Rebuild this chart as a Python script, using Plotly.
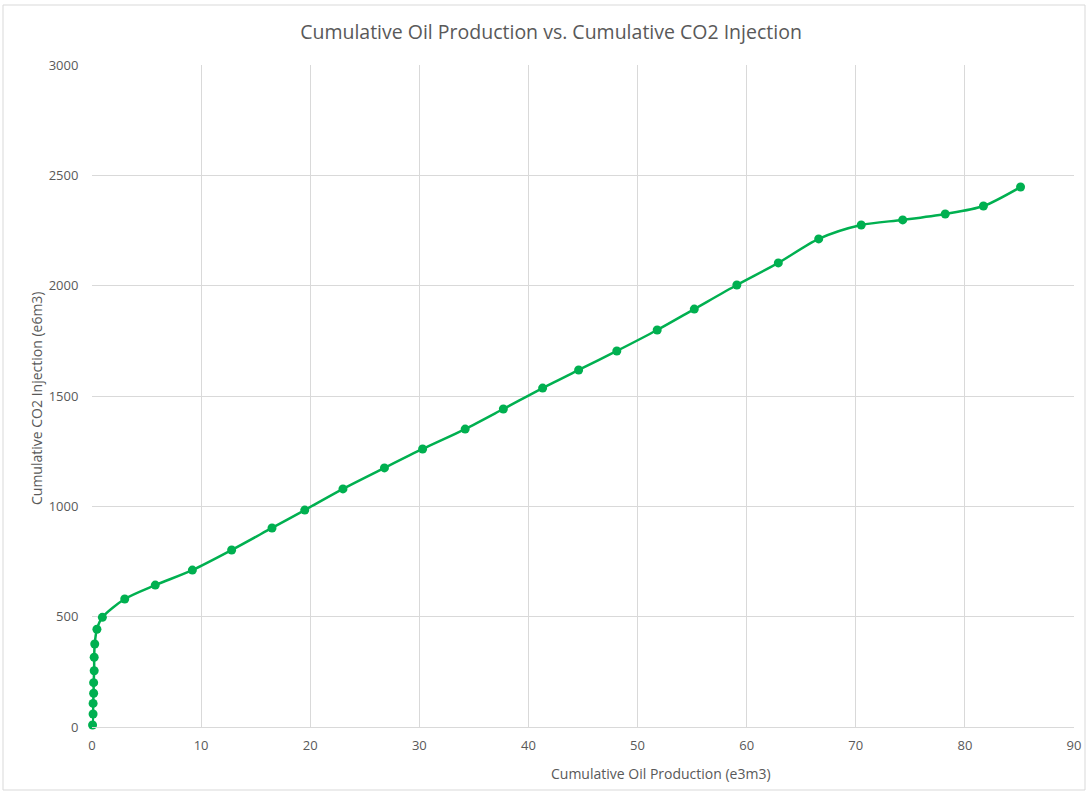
import plotly.graph_objects as go

oil_production = [0.05, 0.1, 0.1, 0.15, 0.15, 0.2, 0.2, 0.25, 0.45, 0.95,
                  3.0, 5.8, 9.2, 12.8, 16.5, 19.5, 23.0, 26.8, 30.3, 34.2,
                  37.7, 41.3, 44.6, 48.1, 51.8, 55.2, 59.1, 62.9, 66.6, 70.5,
                  74.3, 78.2, 81.7, 85.1]
co2_injection = [9, 59, 107, 153, 201, 255, 316, 376, 443, 497,
                 580, 643, 711, 802, 902, 983, 1079, 1174, 1260, 1350,
                 1441, 1536, 1618, 1704, 1799, 1894, 2003, 2103, 2212, 2275,
                 2298, 2325, 2361, 2447]

x_ticks = [0, 10, 20, 30, 40, 50, 60, 70, 80, 90]
y_ticks = [0, 500, 1000, 1500, 2000, 2500, 3000]

title_text = "Cumulative Oil Production vs. Cumulative CO2 Injection"
x_title = "Cumulative Oil Production (e3m3)"
y_title = "Cumulative CO2 Injection (e6m3)"

GREEN = "#00B050"
GRID = "#D9D9D9"
TEXT = "#595959"
FONT = "Open Sans"

W, H = 1088, 795
L, R, T, B = 92, 14, 65, 68
PW, PH = W - L - R, H - T - B


def px_x(p):
    return (p - L) / PW


def px_y(p):
    return (H - B - p) / PH


fig = go.Figure()
fig.add_trace(go.Scatter(
    x=oil_production, y=co2_injection, mode="lines+markers",
    line=dict(color=GREEN, width=2.5, shape="spline", smoothing=0.8),
    marker=dict(color=GREEN, size=9),
    showlegend=False, cliponaxis=False,
))

fig.update_layout(
    width=W, height=H,
    margin=dict(l=L, r=R, t=T, b=B, autoexpand=False),
    paper_bgcolor="white", plot_bgcolor="white",
    font=dict(family=FONT, color=TEXT, size=13),
    title=dict(text=title_text, xref="paper", x=px_x(551), xanchor="center",
               yref="container", y=1 - 32 / H, yanchor="middle",
               font=dict(family=FONT, size=19.5, color=TEXT)),
    xaxis=dict(range=[0, 90], tickvals=x_ticks, showgrid=True, gridcolor=GRID,
               gridwidth=1, zeroline=False, showline=True, linecolor=GRID,
               ticks="outside", ticklen=6, tickcolor="rgba(0,0,0,0)",
               automargin=False, tickfont=dict(size=13, color=TEXT)),
    yaxis=dict(range=[0, 3000], tickvals=y_ticks, showgrid=True, gridcolor=GRID,
               gridwidth=1, zeroline=False, showline=False,
               ticks="outside", ticklen=10, tickcolor="rgba(0,0,0,0)",
               automargin=False, tickfont=dict(size=13, color=TEXT)),
    annotations=[
        dict(text=x_title, xref="paper", yref="paper", x=px_x(661), y=px_y(773),
             xanchor="center", yanchor="middle", showarrow=False,
             font=dict(family=FONT, size=14, color=TEXT)),
        dict(text=y_title, xref="paper", yref="paper", x=px_x(36), y=px_y(398),
             xanchor="center", yanchor="middle", showarrow=False, textangle=-90,
             font=dict(family=FONT, size=14, color=TEXT)),
    ],
    shapes=[dict(type="rect", xref="paper", yref="paper",
                 x0=px_x(3), x1=px_x(1085), y0=px_y(790), y1=px_y(5),
                 line=dict(color="#D9D9D9", width=1), fillcolor="rgba(0,0,0,0)",
                 layer="below")],
)

fig.write_html("out.html", config={"displayModeBar": False},
               post_script="document.body.style.margin='0';")
